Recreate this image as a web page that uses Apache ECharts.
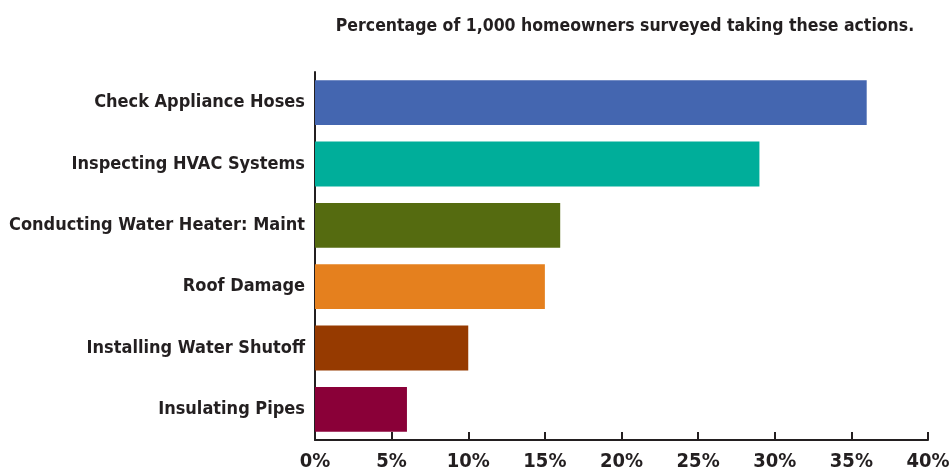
<!DOCTYPE html>
<html><head><meta charset="utf-8">
<script src="https://cdn.jsdelivr.net/npm/echarts@6/dist/echarts.min.js"></script>
<style>html,body{margin:0;padding:0;background:#fff}#c{width:952px;height:472px}</style>
</head><body><div id="c"></div>
<script>
const categories = ["Check Appliance Hoses","Inspecting HVAC Systems","Conducting Water Heater: Maint","Roof Damage","Installing Water Shutoff","Insulating Pipes"];
const values = [36, 29, 16, 15, 10, 6];
const colors = ["#4466B0","#00AE9A","#556B10","#E5801E","#963A00","#8A0038"];
const titleText = "Percentage of 1,000 homeowners surveyed taking these actions.";
const FONT = "'Liberation Sans Narrow', 'DejaVu Sans Condensed', sans-serif";
const ink = "#231F20";
const chart = echarts.init(document.getElementById('c'), null, {renderer:'canvas'});
chart.setOption({
  animation:false,
  title:{text:titleText,left:620,top:12,textAlign:'center',
    textStyle:{fontFamily:FONT,fontWeight:'bold',fontSize:17.5,color:ink}},
  grid:{left:315,right:24,top:72,bottom:32,containLabel:false,outerBoundsMode:'none'},
  xAxis:{type:'value',min:0,max:40,interval:5,
    axisLine:{show:true,lineStyle:{color:ink,width:2}},
    axisTick:{show:true,inside:true,length:8,lineStyle:{color:ink,width:2}},
    splitLine:{show:false},
    axisLabel:{formatter:'{value}%',fontFamily:FONT,fontWeight:'bold',fontSize:20,color:ink,margin:12}},
  yAxis:{type:'category',data:categories,inverse:true,
    axisLine:{show:true,lineStyle:{color:ink,width:2}},
    axisTick:{show:false},
    axisLabel:{fontFamily:FONT,fontWeight:'bold',fontSize:18,color:ink,margin:10}},
  series:[{type:'bar',barWidth:'73%',
    data:values.map((v,i)=>({value:v,itemStyle:{color:colors[i]}}))}]
});
</script></body></html>
